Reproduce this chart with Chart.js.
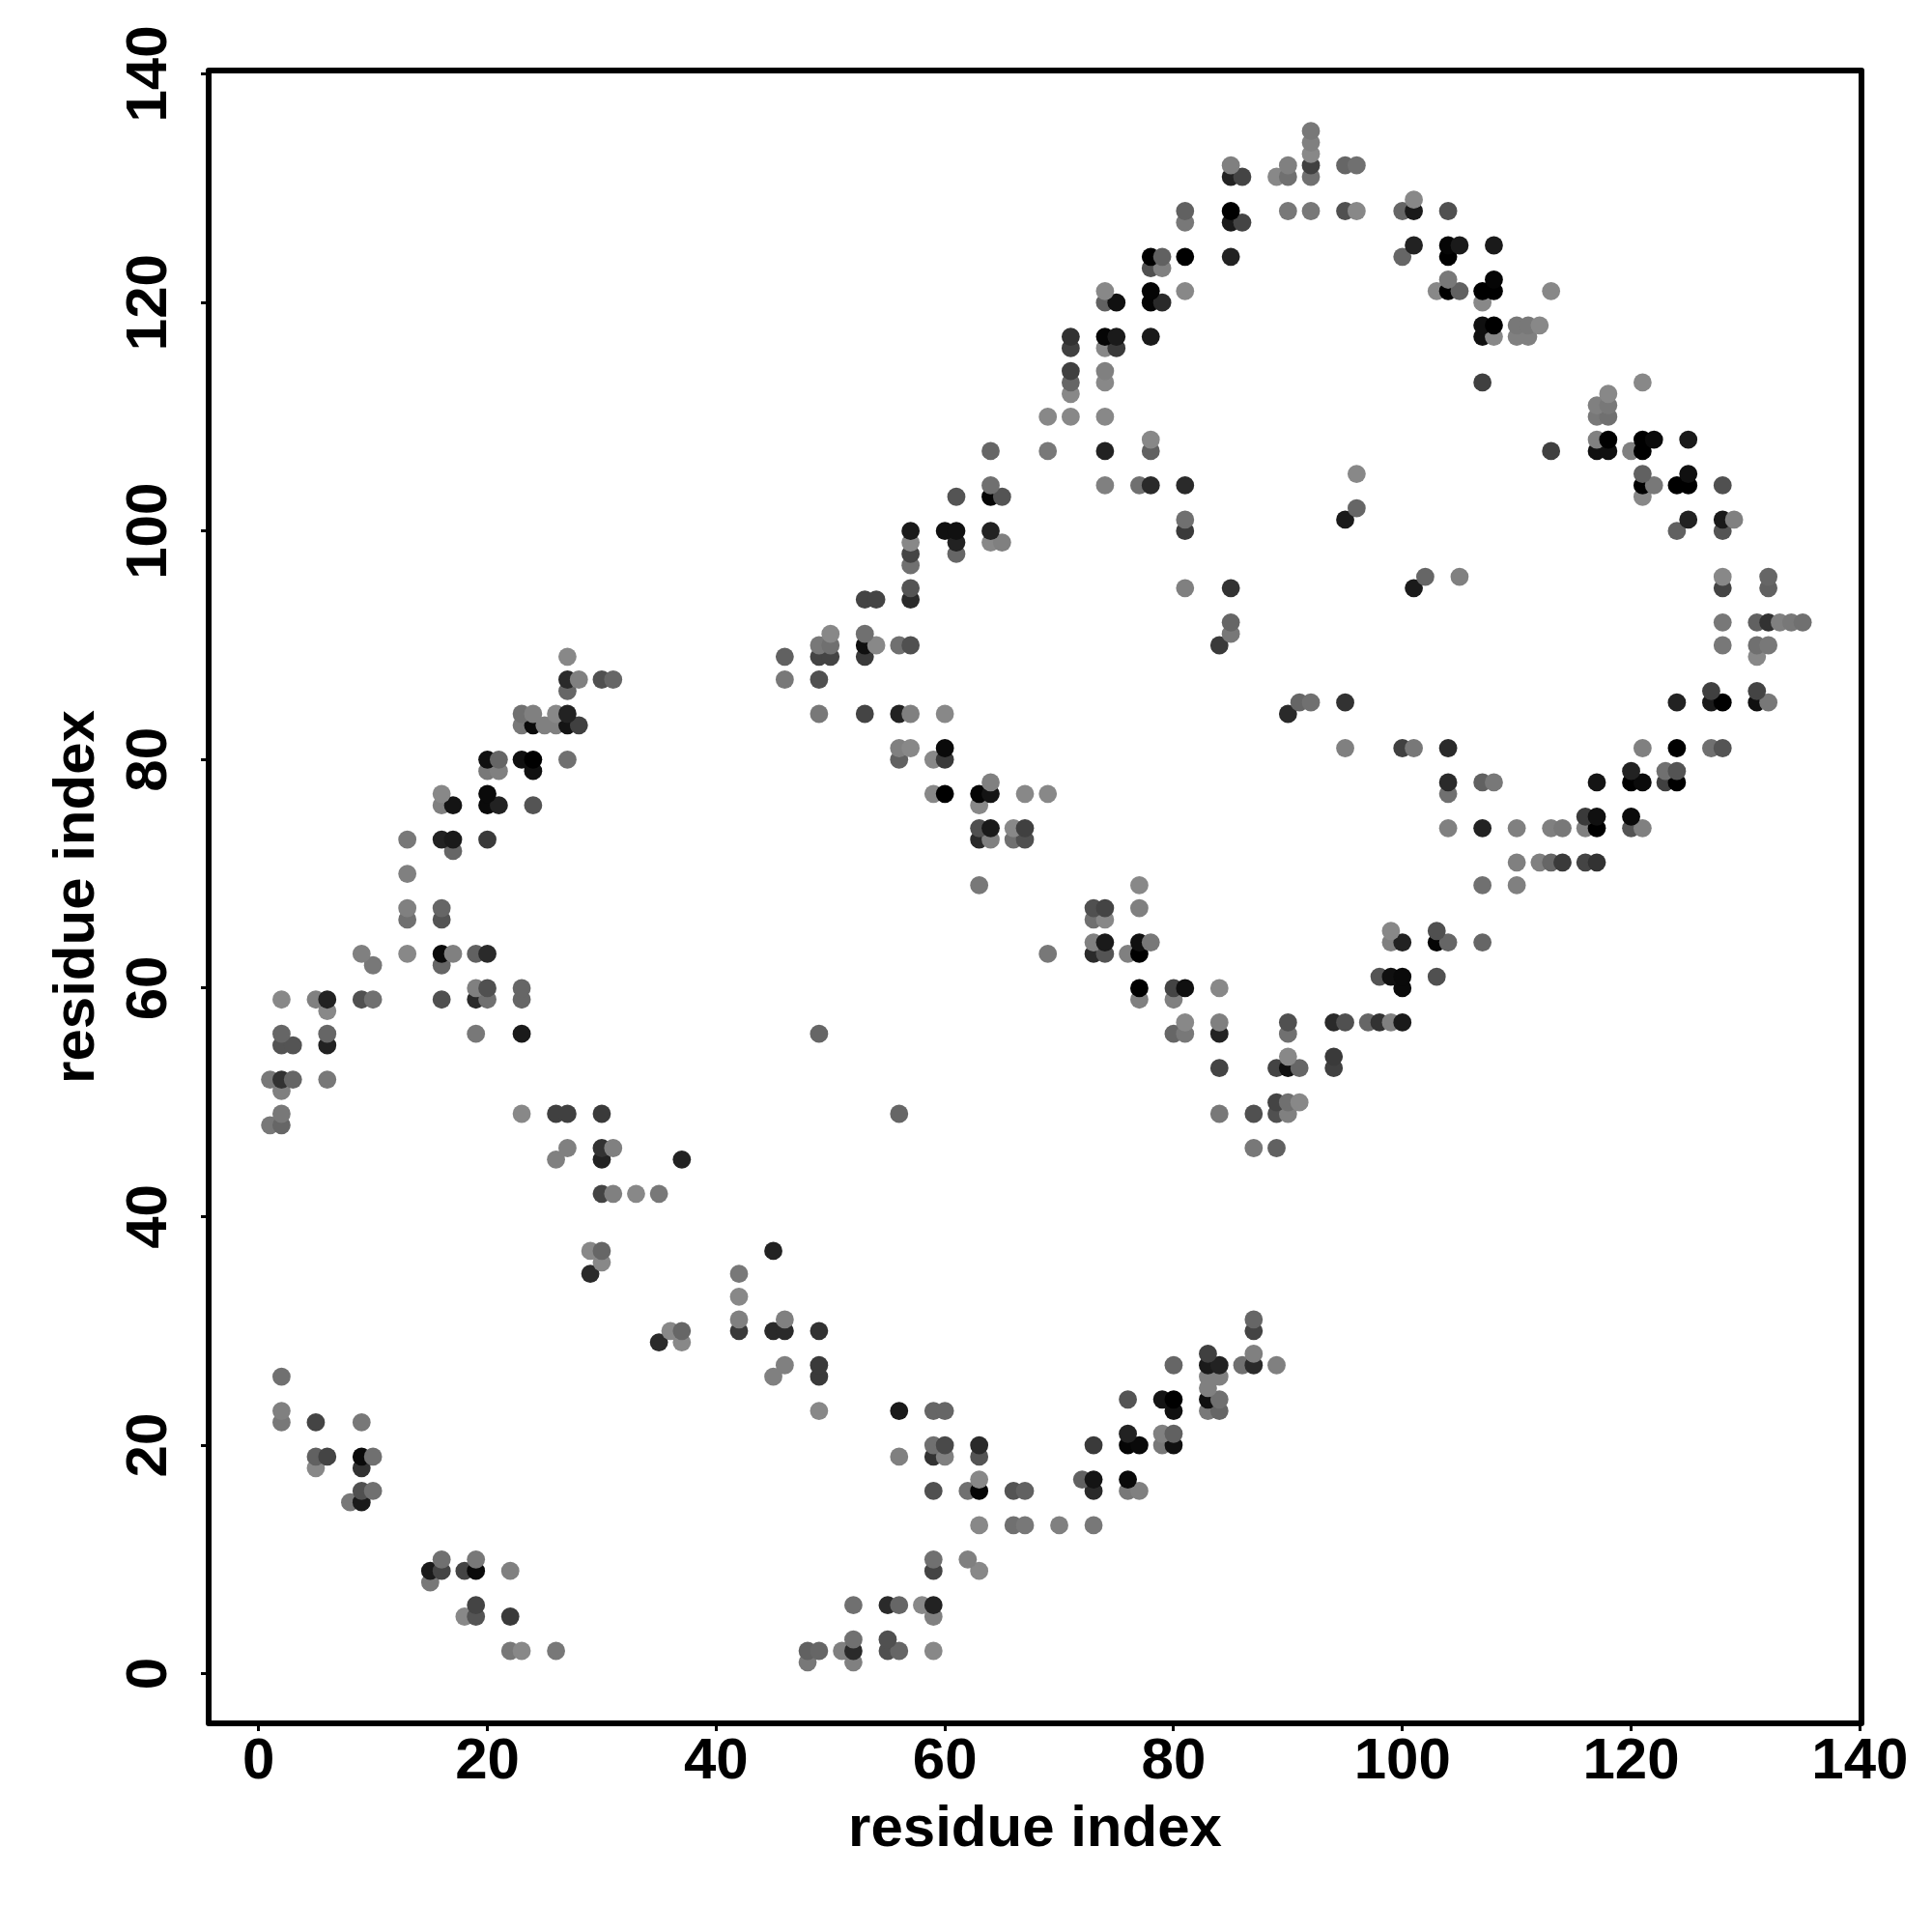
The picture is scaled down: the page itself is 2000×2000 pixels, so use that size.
<!DOCTYPE html>
<html>
<head>
<meta charset="utf-8">
<title>residue contact map</title>
<script src="https://cdn.jsdelivr.net/npm/chart.js@4"></script>
<style>
  html, body { margin: 0; padding: 0; background: #fff; }
  canvas { display: block; }
</style>
</head>
<body>
<canvas id="contactMap" width="2000" height="2000"></canvas>
<script>
// Data. One entry per row of the map (same residue on the y axis),
// rows go bottom to top so that later points paint over earlier ones.
const axisLabel = "residue index";
const tickValues = [0, 20, 40, 60, 80, 100, 120, 140];

const rowY = [
  1, 2, 3, 5, 6, 8, 9, 10, 13, 15, 16, 17, 18, 19, 20, 21, 22, 23, 24, 25, 26, 27, 28, 29, 30, 31,
  33, 35, 36, 37, 42, 45, 46, 48, 49, 50, 51, 52, 53, 54, 55, 56, 57, 58, 59, 60, 61, 62, 63, 64,
  65, 66, 67, 69, 70, 71, 72, 73, 74, 75, 76, 77, 78, 79, 80, 81, 83, 84, 85, 86, 87, 89, 90, 91,
  92, 94, 95, 96, 97, 98, 99, 100, 101, 102, 103, 104, 105, 107, 108, 110, 111, 112, 113, 114,
  116, 117, 118, 120, 121, 122, 123, 124, 125, 127, 128, 129, 131, 132, 133, 134, 135,
];

const rowX = [
  [48, 52],
  [22, 23, 26, 48, 49, 51, 52, 55, 56, 59],
  [52, 55],
  [18, 19, 22, 59],
  [19, 52, 55, 56, 58, 59],
  [15],
  [15, 16, 18, 19, 22, 59, 63],
  [16, 19, 59, 62],
  [63, 66, 67, 70, 73],
  [8, 9],
  [9, 10, 59, 62, 63, 66, 67, 73, 76, 77],
  [63, 72, 73, 76],
  [5, 9],
  [5, 6, 9, 10, 56, 59, 60, 63],
  [59, 60, 63, 73, 76, 77, 79, 80],
  [76, 79, 80],
  [2, 5, 9],
  [2, 49, 56, 59, 60, 80, 83, 84],
  [76, 79, 80, 83, 84],
  [83],
  [2, 45, 49, 83, 84],
  [46, 49, 80, 83, 84, 86, 87, 89],
  [83, 87],
  [35, 37],
  [36, 37, 42, 45, 46, 49, 87],
  [42, 46, 87],
  [42],
  [29, 42],
  [30],
  [29, 30, 45],
  [30, 31, 33, 35],
  [26, 30, 37],
  [27, 30, 31, 87, 89],
  [1, 2],
  [2, 23, 26, 27, 30, 56, 84, 87, 89, 90],
  [89, 90, 91],
  [2],
  [1, 2, 3, 6],
  [84, 89, 90, 91, 94],
  [90, 94],
  [2, 3, 6],
  [2, 6, 19, 23, 49, 80, 81, 84, 90],
  [81, 84, 90, 94, 95, 97, 98, 99, 100],
  [6],
  [2, 5, 6, 9, 10, 16, 19, 20, 23, 77, 80],
  [19, 20, 23, 77, 80, 81, 84, 100],
  [98, 99, 100, 103],
  [10, 16],
  [9, 13, 16, 17, 19, 20, 69, 73, 74, 76, 77],
  [73, 74, 77, 78, 99, 100, 103, 104, 107],
  [99, 103],
  [13, 16, 73, 74],
  [13, 16, 73, 74, 77],
  [63, 77, 107, 110],
  [13],
  [110, 112, 113, 114, 116, 117],
  [17],
  [13, 16, 17, 20, 63, 64, 66, 67],
  [63, 64, 66, 67, 104, 107, 110, 113, 114, 116, 117, 120, 121],
  [116, 117, 120],
  [16, 17, 20, 21, 24, 63],
  [16, 20, 59, 60, 63, 64, 67, 69, 104],
  [64, 104, 107, 108, 117, 120, 121, 123, 124],
  [20, 21, 24, 120, 123, 124],
  [20, 21, 23, 24, 27, 56, 59, 60],
  [56, 57, 60, 95, 100, 101, 104, 121, 124, 127, 128],
  [23, 24, 25, 26, 27, 28],
  [23, 24, 26, 27, 49, 53, 56, 57, 60, 90],
  [91, 92, 95, 124, 127, 128, 131, 132],
  [27, 127, 131],
  [27, 28, 30, 31, 46, 49],
  [27, 46, 49, 50, 53, 131],
  [49, 50, 53, 54, 56, 57, 84, 128, 131, 132],
  [50, 53, 85],
  [85, 128, 131, 132, 133, 134, 135],
  [53, 54, 57],
  [57, 81, 85, 101, 128, 132],
  [102, 105, 128, 132],
  [57],
  [57, 61],
  [57, 61, 64, 65],
  [57, 60, 61, 64, 81, 124, 128],
  [81, 95, 125, 128, 129],
  [96],
  [61, 64, 65, 121],
  [64, 74, 77, 78, 81, 121, 122, 124, 125, 128],
  [96, 121, 125],
  [64, 69, 74, 78, 113, 117, 118, 120, 121],
  [78, 117, 118, 121, 122, 125],
  [69, 71, 74, 117, 118],
  [117, 118],
  [71, 118],
  [71, 74, 107, 121],
  [71, 74],
  [71, 74, 75],
  [71, 74, 75, 78, 107, 108, 110, 111],
  [107, 108, 110, 111, 112],
  [74, 75, 78, 79, 107],
  [74, 78, 81, 103, 104, 105, 107, 108, 113],
  [104, 108],
  [78, 79],
  [78, 79, 81, 85, 100, 104],
  [101, 104, 105, 108],
  [81, 85, 86],
  [81, 85, 90, 92, 95, 96, 100, 101, 104],
  [101],
  [85, 86, 89, 90, 92],
  [85, 90, 92, 95, 96],
  [92],
  [92],
  [92],
];

// contact score 0-100 of each point, same layout as rowX
const rowScore = [
  [12, 6],
  [12, 0, 12, 29, 25, 6, 69, 41, 25, 0],
  [18, 41],
  [0, 38, 57, 6],
  [50, 18, 69, 25, 0, 75],
  [12],
  [81, 50, 50, 93, 6, 50, 0],
  [18, 12, 18, 6],
  [0, 18, 12, 6, 12],
  [12, 81],
  [41, 18, 41, 18, 96, 38, 29, 69, 12, 6],
  [0, 29, 85, 93],
  [0, 63],
  [29, 50, 93, 18, 6, 63, 6, 38],
  [18, 46, 69, 57, 96, 93, 12, 88],
  [75, 6, 29],
  [12, 50, 12],
  [6, 0, 81, 25, 25, 88, 12, 25],
  [38, 85, 100, 88, 18],
  [6],
  [18, 6, 57, 6, 6],
  [6, 57, 25, 81, 75, 18, 69, 6],
  [53, 6],
  [69, 0],
  [0, 25, 57, 69, 69, 63, 50],
  [6, 6, 25],
  [0],
  [69, 12],
  [0],
  [0, 25, 75],
  [50, 6, 0, 12],
  [6, 75, 75],
  [6, 63, 6, 12, 29],
  [12, 25],
  [12, 0, 53, 53, 57, 25, 12, 41, 41, 6],
  [50, 18, 0],
  [6],
  [12, 63, 25, 12],
  [50, 50, 88, 25, 53],
  [0, 57],
  [38, 38, 75],
  [25, 25, 12, 81, 25, 25, 12, 75, 18],
  [0, 6, 41, 69, 41, 25, 63, 6, 81],
  [0],
  [0, 6, 75, 41, 18, 41, 69, 18, 25, 6, 6],
  [6, 41, 25, 100, 50, 88, 0, 93],
  [38, 88, 93, 41],
  [12, 25],
  [6, 0, 93, 6, 29, 69, 12, 69, 38, 6, 100],
  [6, 81, 88, 12, 6, 75, 96, 25, 25],
  [0, 41],
  [18, 38, 18, 0],
  [6, 25, 41, 50, 6],
  [12, 0, 18, 6],
  [6],
  [6, 6, 25, 57, 50, 63],
  [25],
  [12, 75, 81, 57, 69, 6, 18, 41],
  [41, 81, 0, 53, 6, 75, 6, 6, 12, 6, 100, 38, 6],
  [57, 88, 93],
  [6, 85, 93, 75, 38, 0],
  [0, 93, 0, 100, 96, 85, 0, 0, 18],
  [6, 69, 29, 12, 85, 100, 93, 53, 100],
  [12, 6, 88, 75, 18, 38],
  [88, 25, 88, 100, 18, 29, 0, 57],
  [6, 0, 93, 6, 53, 12, 69, 6, 100, 18, 38],
  [12, 93, 6, 6, 85, 53],
  [18, 6, 0, 75, 12, 50, 75, 6, 0, 69],
  [25, 18, 63, 75, 81, 100, 88, 12],
  [25, 53, 50],
  [69, 6, 41, 25, 12, 41],
  [0, 29, 50, 50, 57, 0],
  [12, 18, 88, 0, 18, 41, 57, 12, 18, 12],
  [0, 18, 12],
  [25, 12, 29, 63, 6, 12, 18],
  [50, 50, 69],
  [38, 6, 63, 81, 50, 29],
  [25, 6, 0, 25],
  [18],
  [50, 25],
  [0, 75, 0, 6],
  [81, 88, 88, 75, 57, 29, 38],
  [18, 81, 75, 81, 6],
  [25],
  [38, 96, 38, 0],
  [18, 6, 18, 69, 69, 100, 12, 100, 100, 41],
  [0, 29, 88],
  [25, 12, 75, 29, 53, 88, 88, 6, 100],
  [0, 6, 100, 100, 93, 81],
  [0, 0, 0, 12, 18],
  [6, 12],
  [0, 0],
  [25, 0, 53, 0],
  [53, 6],
  [53, 0, 57],
  [63, 96, 81, 81, 88, 0, 6, 6],
  [88, 100, 12, 12, 0],
  [29, 88, 96, 69, 0],
  [0, 96, 0, 0, 100, 29, 100, 100, 0],
  [12, 96],
  [41, 6],
  [100, 29, 100, 75, 25, 100],
  [75, 96, 81, 81],
  [12, 81, 50],
  [29, 100, 12, 12, 41, 0, 25, 81, 41],
  [0],
  [75, 50, 0, 18, 18],
  [6, 6, 53, 25, 18],
  [0],
  [6],
  [12],
];

const points = [];
const pointColors = [];
rowY.forEach((y, r) => {
  rowX[r].forEach((x, c) => {
    points.push({ x: x, y: y });
    // score 0 is the lightest grey, score 100 is black
    const g = Math.round(136 * (1 - rowScore[r][c] / 100));
    pointColors.push(`rgb(${g},${g},${g})`);
  });
});

const setTicks = (scale) => {
  scale.ticks = tickValues.map((v) => ({ value: v }));
};

// box round the plot area
const frameBox = {
  id: "frameBox",
  afterDatasetsDraw(chart) {
    const a = chart.chartArea;
    const ctx = chart.ctx;
    ctx.save();
    ctx.strokeStyle = "#000";
    ctx.lineWidth = 6;
    ctx.lineJoin = "round";
    ctx.strokeRect(a.left, a.top, a.right - a.left, a.bottom - a.top);
    ctx.restore();
  },
};

const labelFont = { family: "'Liberation Sans', sans-serif", size: 60, weight: "bold" };
const tickGrid = { display: true, drawOnChartArea: false, drawTicks: true, tickLength: 8, tickWidth: 3, tickColor: "#000" };

new Chart(document.getElementById("contactMap").getContext("2d"), {
  type: "scatter",
  data: {
    datasets: [
      {
        data: points,
        pointBackgroundColor: pointColors,
        pointBorderWidth: 0,
        pointRadius: 9.4,
        pointHoverRadius: 9.4,
      },
    ],
  },
  options: {
    responsive: false,
    animation: false,
    layout: { padding: { top: 73, right: 73, left: 0, bottom: 0 } },
    plugins: { legend: { display: false }, tooltip: { enabled: false } },
    scales: {
      x: {
        type: "linear",
        min: -4.37,
        max: 140.14,
        afterBuildTicks: setTicks,
        afterFit: (scale) => { scale.height = 216; },
        border: { display: false },
        grid: tickGrid,
        ticks: {
          color: "#000",
          font: labelFont,
          padding: -4,
          maxRotation: 0,
          autoSkip: false,
        },
        title: {
          display: true,
          text: axisLabel,
          color: "#000",
          font: labelFont,
          padding: { bottom: 70, top: 0 },
        },
      },
      y: {
        type: "linear",
        min: -4.34,
        max: 140.3,
        afterBuildTicks: setTicks,
        afterFit: (scale) => { scale.width = 216; },
        border: { display: false },
        grid: tickGrid,
        ticks: {
          color: "#000",
          font: labelFont,
          padding: 2,
          minRotation: 90,
          maxRotation: 90,
          crossAlign: "center",
          autoSkip: false,
        },
        title: {
          display: true,
          text: axisLabel,
          color: "#000",
          font: labelFont,
          padding: { top: 44, bottom: 0 },
        },
      },
    },
  },
  plugins: [frameBox],
});
</script>
</body>
</html>
